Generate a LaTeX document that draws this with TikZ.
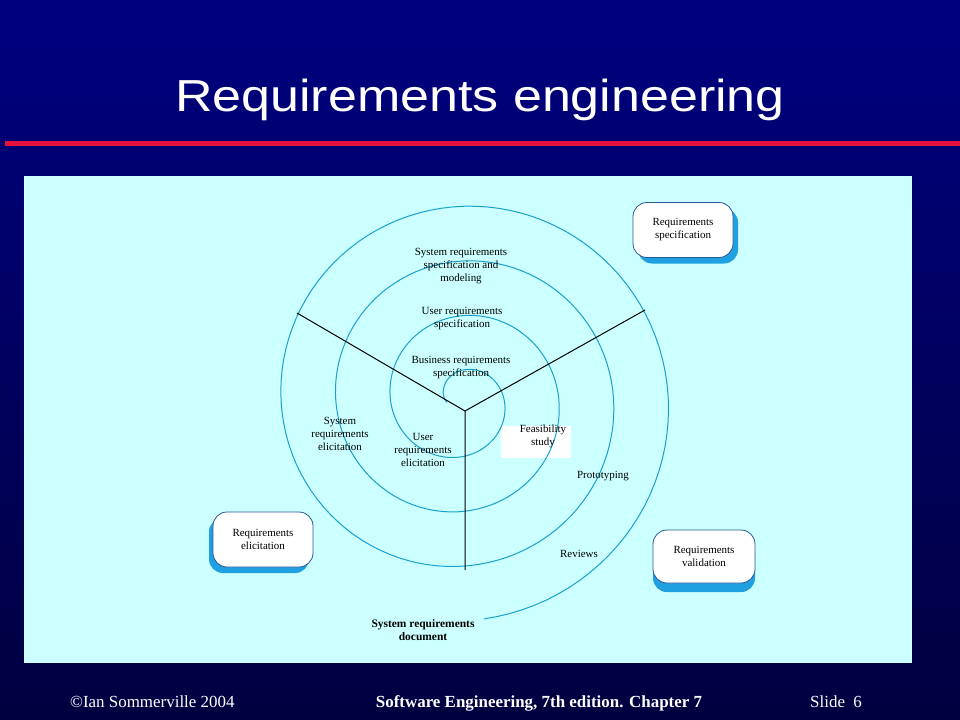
\documentclass[tikz,border=0pt]{standalone}
\usepackage{fontspec}
\setmainfont{Liberation Serif}
\newfontfamily\titlefont{Liberation Sans}
\usetikzlibrary{shadows}

\definecolor{slidetop}{RGB}{0,0,128}
\definecolor{slidebottom}{RGB}{0,0,64}
\definecolor{slidered}{RGB}{230,20,60}
\definecolor{panelcyan}{RGB}{204,255,255}
\definecolor{spiralblue}{RGB}{25,160,205}
\definecolor{boxedge}{RGB}{40,90,150}
\definecolor{boxshadow}{RGB}{30,160,225}

\begin{document}
\begin{tikzpicture}[x=1bp, y=-1bp,
    lbl/.style={align=center, inner sep=0pt, font=\fontsize{11}{13}\selectfont},
    activity/.style={draw=boxedge, line width=0.8bp, fill=white, rounded corners=14bp,
        minimum width=100bp, minimum height=55bp, inner sep=0pt, align=center,
        font=\fontsize{11}{13}\selectfont},
    foot/.style={anchor=base, inner sep=0pt, text=white, font=\fontsize{17}{20}\selectfont}]
    \useasboundingbox (0,0) rectangle (960,720);

    % slide background
    \shade[top color=slidetop, bottom color=slidebottom] (0,0) rectangle (960,720);
    \draw[slidered, line width=5bp] (5,144) -- (960,144);
    \fill[panelcyan] (24,176) rectangle (912,663);
    \node (title) [anchor=base, inner sep=0pt, text=white, font=\titlefont\fontsize{45}{54}\selectfont]
        at (480,112) {\scalebox{1.16}[1]{Requirements engineering}};

    % spiral
    \fill[white] (501,426) rectangle (571,458);
    \draw[spiralblue, line width=1bp] plot[domain=-100:1254, samples=400, variable=\t]
        ({461+(29.5+0.152*\t)*sin(\t)}, {400-(29.5+0.152*\t)*cos(\t)});

    \coordinate (hub) at (465,411);
    \coordinate (hubwest) at (297,313);
    \coordinate (hubeast) at (645,310);
    \coordinate (hubsouth) at (465,570);
    \draw[line width=1bp] (hubwest) -- (hub) -- (hubeast) (hub) -- (hubsouth);

    \node (sysspec) [lbl] at (461,266) {System requirements\\specification and\\modeling};
    \node (userspec) [lbl] at (462,319) {User requirements\\specification};
    \node (busspec) [lbl] at (461,368) {Business requirements\\specification};
    \node (syselic) [lbl] at (340,434) {System\\requirements\\elicitation};
    \node (userelic) [lbl] at (423,450) {User\\requirements\\elicitation};
    \node (feas) [lbl] at (543,436) {Feasibility\\study};
    \node (proto) [lbl] at (603,476) {Prototyping};
    \node (reviews) [lbl] at (579,554) {Reviews};
    \node (sysdoc) [lbl, font=\fontsize{11.5}{13}\selectfont\bfseries] at (423,630) {System requirements\\document};

    % activities
    \node (reqspec) [activity, drop shadow={shadow xshift=5bp, shadow yshift=-6bp, fill=boxshadow, opacity=1}]
        at (683,230) {Requirements\\specification};
    \node (reqelic) [activity, drop shadow={shadow xshift=-4bp, shadow yshift=-6bp, fill=boxshadow, opacity=1}]
        at (263,539.5) {Requirements\\elicitation};
    \node (reqval) [activity, minimum width=102bp, minimum height=53bp,
        drop shadow={shadow xshift=0bp, shadow yshift=-9bp, fill=boxshadow, opacity=1}]
        at (704,556.5) {Requirements\\validation};

    % footer
    \node (copy) [foot, anchor=base west] at (70,707) {\textcopyright Ian Sommerville 2004};
    \node (book) [foot, font=\fontsize{17}{20}\selectfont\bfseries] at (539,707) {Software Engineering, 7th edition. Chapter 7};
    \node (slide) [foot, anchor=base west] at (810,707) {Slide\ \ 6};
\end{tikzpicture}
\end{document}
